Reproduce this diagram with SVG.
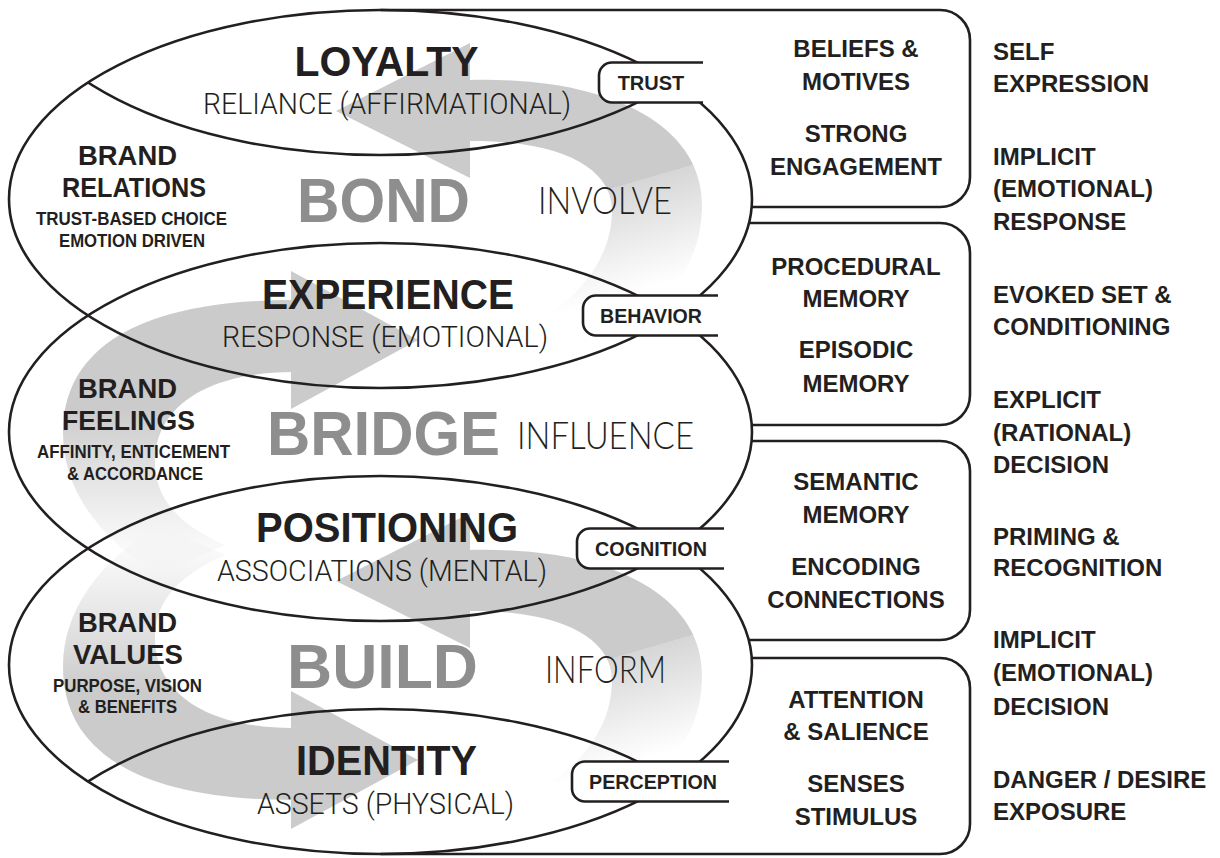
<svg xmlns="http://www.w3.org/2000/svg" xmlns:xlink="http://www.w3.org/1999/xlink" width="1220" height="858" viewBox="0 0 1220 858">
<defs>
<style>
.ln{fill:none;stroke:#231f20;stroke-width:2.6}
.pill{fill:#fff;stroke:#231f20;stroke-width:2.6}
.hb{font-family:"Liberation Sans",Arial,sans-serif;font-weight:700;fill:#231f20}
.lt{font-family:Roboto,"Open Sans",sans-serif;font-weight:300;fill:#231f20}
.gw{font-family:"Liberation Sans",Arial,sans-serif;font-weight:700;fill:#8e8e8e}
.vb{font-family:Lato,Inter,sans-serif;font-weight:300;fill:#231f20}
.head{font-size:43px}
.sub{font-size:30px}
.big{font-size:63px}
.verb{font-size:37px}
.brand{font-size:28px}
.small{font-size:18px}
.box{font-size:24px}
.pt{font-size:20px}
.far{font-size:24px}
.arrowfill{fill:#cbcbcb}
</style>
<linearGradient id="gBond" gradientUnits="userSpaceOnUse" x1="647" y1="178" x2="682" y2="298">
<stop offset="0" stop-color="#cbcbcb"/>
<stop offset="0" stop-color="#d6d6d6"/>
<stop offset="0.85" stop-color="#d6d6d6" stop-opacity="0"/>
</linearGradient>
<linearGradient id="gBridge" gradientUnits="userSpaceOnUse" x1="0" y1="410" x2="0" y2="570">
<stop offset="0" stop-color="#cbcbcb"/>
<stop offset="1" stop-color="#d6d6d6" stop-opacity="0"/>
</linearGradient>
<clipPath id="clipBond"><ellipse cx="380.5" cy="199" rx="371.5" ry="189"/></clipPath>
<clipPath id="clipBuild"><ellipse cx="380.5" cy="665" rx="371.5" ry="189"/></clipPath>
<g id="arrowA">
<path fill="url(#gBond)" d="M 468,80 C 610,76 702,125 702,205 C 702,255 678,292 636,320 L 552,312 C 590,285 612,250 612,210 C 612,170 565,140 468,141 Z"/>
<path class="arrowfill" d="M 470,43 L 336,111 L 470,178 Z"/>
</g>
<g id="arrowB">
<path fill="url(#gBridge)" d="M 293,300 C 143,300 63,346 63,433 C 63,490 100,540 160,575 L 225,545 C 180,525 155,500 155,462 C 155,405 210,372 293,372 Z"/>
<path class="arrowfill" d="M 291,271 L 418,340 L 291,409 Z"/>
</g>
</defs>
<rect x="0" y="0" width="1220" height="858" fill="#fff"/>

<g id="swirl-arrows">
<use xlink:href="#arrowA" href="#arrowA"/>
<use xlink:href="#arrowB" href="#arrowB"/>
<use xlink:href="#arrowB" href="#arrowB" transform="matrix(1 0 0 -1 0 1100)"/>
<use xlink:href="#arrowA" href="#arrowA" transform="translate(0 470)"/>
</g>

<g id="connectors">
<ellipse class="ln" cx="380.5" cy="199" rx="371.5" ry="189"/>
<ellipse class="ln" cx="380.5" cy="432" rx="371.5" ry="189"/>
<ellipse class="ln" cx="380.5" cy="665" rx="371.5" ry="189"/>
<ellipse class="ln" cx="380.5" cy="-34" rx="371.5" ry="189" clip-path="url(#clipBond)"/>
<ellipse class="ln" cx="380.5" cy="898" rx="371.5" ry="189" clip-path="url(#clipBuild)"/>
</g>

<g id="box-bond">
<path class="ln" d="M 380.5,10 H 940 A 30 30 0 0 1 970,40 V 177 A 30 30 0 0 1 940,207 H 751.7"/>
<text class="hb box" text-anchor="middle" x="856" y="57">BELIEFS &amp;</text>
<text class="hb box" text-anchor="middle" x="856" y="90">MOTIVES</text>
<text class="hb box" text-anchor="middle" x="856" y="142">STRONG</text>
<text class="hb box" text-anchor="middle" x="856" y="175">ENGAGEMENT</text>
</g>
<g id="box-bridge-upper">
<path class="ln" d="M 749,223 H 940 A 30 30 0 0 1 970,253 V 395 A 30 30 0 0 1 940,425 H 751.7"/>
<text class="hb box" text-anchor="middle" x="856" y="275">PROCEDURAL</text>
<text class="hb box" text-anchor="middle" x="856" y="307">MEMORY</text>
<text class="hb box" text-anchor="middle" x="856" y="358">EPISODIC</text>
<text class="hb box" text-anchor="middle" x="856" y="392">MEMORY</text>
</g>
<g id="box-bridge-lower">
<path class="ln" d="M 751.5,441 H 940 A 30 30 0 0 1 970,471 V 610 A 30 30 0 0 1 940,640 H 748.7"/>
<text class="hb box" text-anchor="middle" x="856" y="490">SEMANTIC</text>
<text class="hb box" text-anchor="middle" x="856" y="523">MEMORY</text>
<text class="hb box" text-anchor="middle" x="856" y="575">ENCODING</text>
<text class="hb box" text-anchor="middle" x="856" y="608">CONNECTIONS</text>
</g>
<g id="box-build">
<path class="ln" d="M 751.7,658 H 940 A 30 30 0 0 1 970,688 V 824 A 30 30 0 0 1 940,854 H 380.5"/>
<text class="hb box" text-anchor="middle" x="856" y="708">ATTENTION</text>
<text class="hb box" text-anchor="middle" x="856" y="740">&amp; SALIENCE</text>
<text class="hb box" text-anchor="middle" x="856" y="792">SENSES</text>
<text class="hb box" text-anchor="middle" x="856" y="825">STIMULUS</text>
</g>

<g id="pill-trust">
<path class="pill" d="M 703,62.5 H 612 A 13 13 0 0 0 599,75.5 V 89.5 A 13 13 0 0 0 612,102.5 H 703"/>
<text class="hb pt" text-anchor="middle" x="651" y="90">TRUST</text>
</g>
<g id="pill-behavior">
<path class="pill" d="M 718,295.5 H 596 A 13 13 0 0 0 583,308.5 V 322.5 A 13 13 0 0 0 596,335.5 H 718"/>
<text class="hb pt" text-anchor="middle" x="651" y="323" textLength="102" lengthAdjust="spacingAndGlyphs">BEHAVIOR</text>
</g>
<g id="pill-cognition">
<path class="pill" d="M 724,528.5 H 590 A 13 13 0 0 0 577,541.5 V 555.5 A 13 13 0 0 0 590,568.5 H 724"/>
<text class="hb pt" text-anchor="middle" x="651" y="556" textLength="112" lengthAdjust="spacingAndGlyphs">COGNITION</text>
</g>
<g id="pill-perception">
<path class="pill" d="M 729,761.5 H 585 A 13 13 0 0 0 572,774.5 V 788.5 A 13 13 0 0 0 585,801.5 H 729"/>
<text class="hb pt" text-anchor="middle" x="653" y="789" textLength="128" lengthAdjust="spacingAndGlyphs">PERCEPTION</text>
</g>

<g id="stage-bond">
<text class="hb head" text-anchor="middle" x="386.5" y="76" textLength="184" lengthAdjust="spacingAndGlyphs">LOYALTY</text>
<text class="lt sub" text-anchor="middle" x="387" y="114" textLength="368" lengthAdjust="spacingAndGlyphs">RELIANCE (AFFIRMATIONAL)</text>
<text class="gw big" text-anchor="middle" x="383.5" y="222" textLength="173" lengthAdjust="spacingAndGlyphs">BOND</text>
<text class="vb verb" text-anchor="middle" x="605" y="214" textLength="134" lengthAdjust="spacingAndGlyphs">INVOLVE</text>
<text class="hb brand" text-anchor="middle" x="127.5" y="165" textLength="99" lengthAdjust="spacingAndGlyphs">BRAND</text>
<text class="hb brand" text-anchor="middle" x="134" y="197" textLength="144" lengthAdjust="spacingAndGlyphs">RELATIONS</text>
<text class="hb small" text-anchor="middle" x="131.5" y="225" textLength="191" lengthAdjust="spacingAndGlyphs">TRUST-BASED CHOICE</text>
<text class="hb small" text-anchor="middle" x="132" y="247" textLength="146" lengthAdjust="spacingAndGlyphs">EMOTION DRIVEN</text>
</g>

<g id="stage-bridge">
<text class="hb head" text-anchor="middle" x="388" y="309" textLength="252" lengthAdjust="spacingAndGlyphs">EXPERIENCE</text>
<text class="lt sub" text-anchor="middle" x="385" y="347" textLength="326" lengthAdjust="spacingAndGlyphs">RESPONSE (EMOTIONAL)</text>
<text class="gw big" text-anchor="middle" x="383.5" y="455" textLength="233" lengthAdjust="spacingAndGlyphs">BRIDGE</text>
<text class="vb verb" text-anchor="middle" x="605.5" y="449" textLength="177" lengthAdjust="spacingAndGlyphs">INFLUENCE</text>
<text class="hb brand" text-anchor="middle" x="127.5" y="398" textLength="99" lengthAdjust="spacingAndGlyphs">BRAND</text>
<text class="hb brand" text-anchor="middle" x="128.5" y="430" textLength="133" lengthAdjust="spacingAndGlyphs">FEELINGS</text>
<text class="hb small" text-anchor="middle" x="133.5" y="458" textLength="193" lengthAdjust="spacingAndGlyphs">AFFINITY, ENTICEMENT</text>
<text class="hb small" text-anchor="middle" x="135" y="480" textLength="136" lengthAdjust="spacingAndGlyphs">&amp; ACCORDANCE</text>
</g>

<g id="stage-build">
<text class="hb head" text-anchor="middle" x="387" y="542" textLength="262" lengthAdjust="spacingAndGlyphs">POSITIONING</text>
<text class="lt sub" text-anchor="middle" x="382" y="581" textLength="330" lengthAdjust="spacingAndGlyphs">ASSOCIATIONS (MENTAL)</text>
<text class="gw big" text-anchor="middle" x="382.5" y="688" textLength="191" lengthAdjust="spacingAndGlyphs">BUILD</text>
<text class="vb verb" text-anchor="middle" x="605.5" y="683" textLength="121" lengthAdjust="spacingAndGlyphs">INFORM</text>
<text class="hb brand" text-anchor="middle" x="127.5" y="632" textLength="99" lengthAdjust="spacingAndGlyphs">BRAND</text>
<text class="hb brand" text-anchor="middle" x="128" y="664" textLength="110" lengthAdjust="spacingAndGlyphs">VALUES</text>
<text class="hb small" text-anchor="middle" x="127.5" y="692" textLength="149" lengthAdjust="spacingAndGlyphs">PURPOSE, VISION</text>
<text class="hb small" text-anchor="middle" x="127.5" y="713" textLength="99" lengthAdjust="spacingAndGlyphs">&amp; BENEFITS</text>
<text class="hb head" text-anchor="middle" x="386.5" y="775" textLength="181" lengthAdjust="spacingAndGlyphs">IDENTITY</text>
<text class="lt sub" text-anchor="middle" x="385.5" y="814" textLength="257" lengthAdjust="spacingAndGlyphs">ASSETS (PHYSICAL)</text>
</g>

<g id="response-labels">
<text class="hb far" x="993" y="60">SELF</text>
<text class="hb far" x="993" y="92">EXPRESSION</text>
<text class="hb far" x="993" y="165">IMPLICIT</text>
<text class="hb far" x="993" y="197">(EMOTIONAL)</text>
<text class="hb far" x="993" y="230">RESPONSE</text>
<text class="hb far" x="993" y="303">EVOKED SET &amp;</text>
<text class="hb far" x="993" y="335">CONDITIONING</text>
<text class="hb far" x="993" y="408">EXPLICIT</text>
<text class="hb far" x="993" y="441">(RATIONAL)</text>
<text class="hb far" x="993" y="473">DECISION</text>
<text class="hb far" x="993" y="545">PRIMING &amp;</text>
<text class="hb far" x="993" y="576">RECOGNITION</text>
<text class="hb far" x="993" y="648">IMPLICIT</text>
<text class="hb far" x="993" y="681">(EMOTIONAL)</text>
<text class="hb far" x="993" y="715">DECISION</text>
<text class="hb far" x="993" y="788">DANGER / DESIRE</text>
<text class="hb far" x="993" y="820">EXPOSURE</text>
</g>
</svg>
